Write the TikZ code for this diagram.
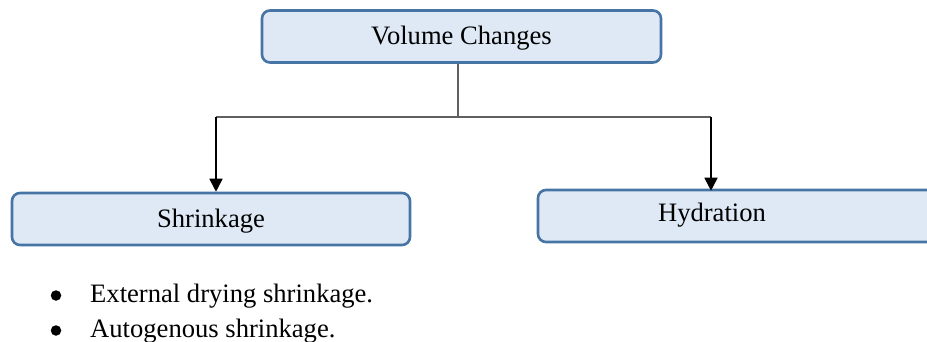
\documentclass[tikz,border=0pt]{standalone}
\usepackage{fontspec}
\setmainfont{Liberation Serif}
\usetikzlibrary{arrows.meta}
\definecolor{boxfill}{RGB}{222,233,245}
\definecolor{boxline}{RGB}{70,117,165}
\definecolor{linkgray}{RGB}{96,96,96}
\tikzset{
  catbox/.style={draw=boxline, fill=boxfill, line width=2.6pt, rounded corners=8pt,
    inner sep=0pt, font=\fontsize{26.6}{30}\selectfont,
    text height=20pt, text depth=4pt},
  lbl/.style={font=\fontsize{26.6}{30}\selectfont, inner sep=0pt, anchor=base},
  dot/.style={circle, fill=black, inner sep=0pt, minimum size=10.5pt},
  link/.style={draw=linkgray, line width=1.2pt},
  down/.style={draw=black, line width=1.8pt, -{Triangle[length=13pt,width=13pt]}},
}
\begin{document}
\begin{tikzpicture}[x=1pt,y=-1pt]
  \useasboundingbox (0,0) rectangle (927,342);
  \clip (0,0) rectangle (927,342);

  % category boxes
  \node[catbox, minimum width=399pt, minimum height=52pt] (vc) at (461.5,36.5) {Volume Changes};
  \node[catbox, minimum width=398pt, minimum height=52pt] (shr) at (211,219) {Shrinkage};
  \node[catbox, minimum width=422pt, minimum height=52pt] (hyd) at (749,216) {};
  \node[lbl] (hydtext) at (712,222) {Hydration};

  % branch connectors
  \coordinate (jm) at (458,117);
  \coordinate (jl) at (216,117);
  \coordinate (jr) at (711,117);
  \draw[link] (vc.south -| jm) -- (jm);
  \draw[link] (jl) -- (jr);
  \draw[down] (jl) -- (shr.north -| jl);
  \draw[down] (jr) -- ([yshift=-2pt]hyd.north -| jr);

  % list of shrinkage types
  \node[dot] (b1) at (56,295.5) {};
  \node[lbl, anchor=base west] (t1) at (90,302) {External drying shrinkage.};
  \node[dot] (b2) at (56,330.5) {};
  \node[lbl, anchor=base west] (t2) at (90,337) {Autogenous shrinkage.};
\end{tikzpicture}
\end{document}
